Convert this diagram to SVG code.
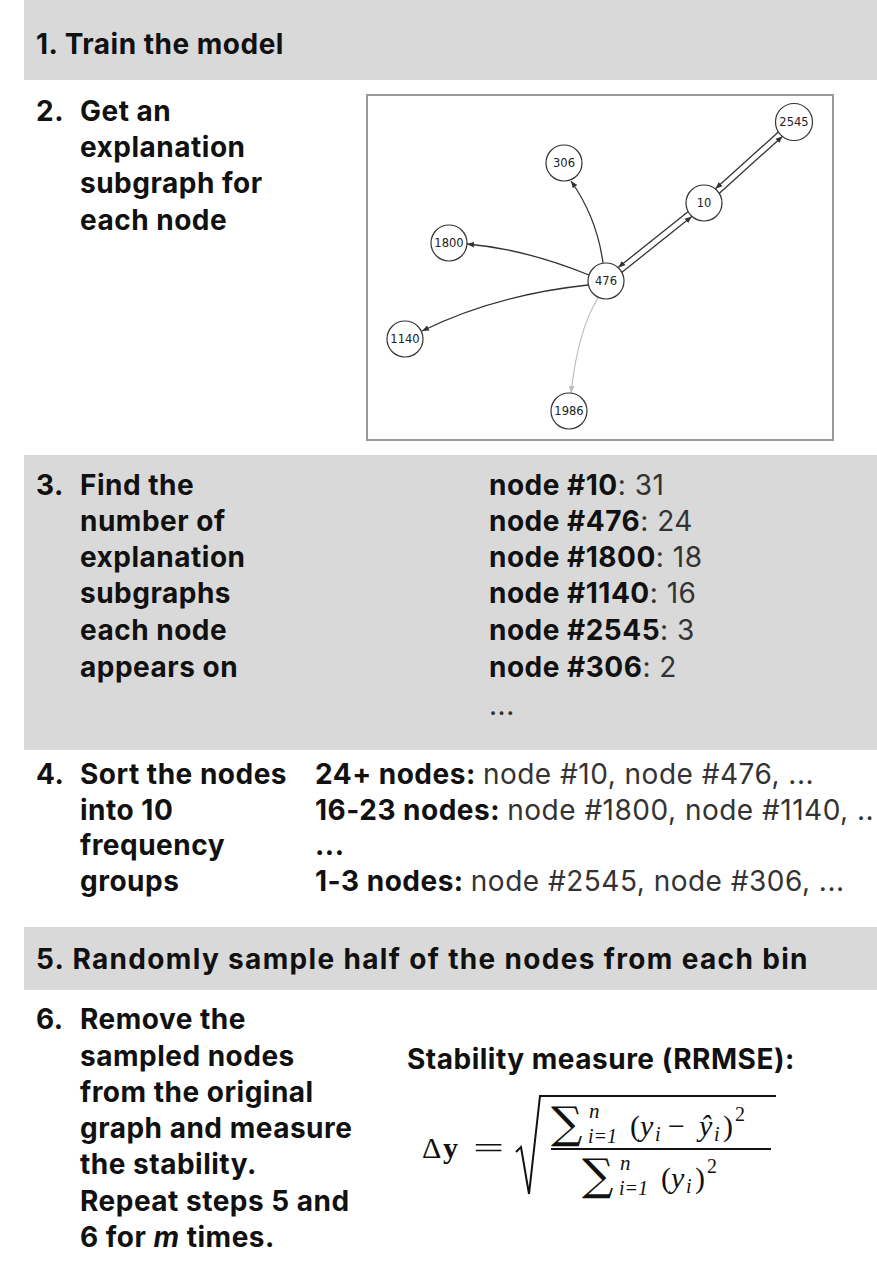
<svg xmlns="http://www.w3.org/2000/svg" width="877" height="1262" viewBox="0 0 877 1262">
<style>
.band{fill:#d9d9d9}
.b{font-family:Inter,"Liberation Sans",sans-serif;font-weight:700;font-size:28px;letter-spacing:0.5px;fill:#111}
.r{font-family:Inter,"Liberation Sans",sans-serif;font-weight:400;fill:#333}
.nc{fill:#fff;stroke:#333;stroke-width:1.2}
.nl{font-family:"DejaVu Sans",sans-serif;font-size:11.5px;fill:#222;text-anchor:middle}
.e{fill:none;stroke:#333;stroke-width:1.3}
.el{fill:none;stroke:#bbb;stroke-width:1.1}
.m{font-family:"Liberation Serif","DejaVu Serif",serif;fill:#111}
.mi{font-family:"Liberation Serif","DejaVu Serif",serif;font-style:italic;fill:#111}
.sg{font-family:"DejaVu Serif",serif;fill:#111}
</style>
<defs>
<marker id="ah" viewBox="0 0 10 10" refX="10" refY="5" markerWidth="7" markerHeight="7" markerUnits="userSpaceOnUse" orient="auto"><path d="M0,1 L10,5 L0,9 z" fill="#333"/></marker>
<marker id="ahl" viewBox="0 0 10 10" refX="10" refY="5" markerWidth="7" markerHeight="7" markerUnits="userSpaceOnUse" orient="auto"><path d="M0,1 L10,5 L0,9 z" fill="#bbb"/></marker>
</defs>
<rect width="877" height="1262" fill="#fff"/>

<g id="step1">
<rect class="band" x="24" y="0" width="853" height="80"/>
<text class="b" x="36" y="54">1. Train the model</text>
</g>

<g id="step2">
<text class="b" x="36" y="121">2.</text>
<text class="b" x="80" y="121">Get an</text>
<text class="b" x="80" y="157">explanation</text>
<text class="b" x="80" y="193">subgraph for</text>
<text class="b" x="80" y="230">each node</text>
</g>

<g id="graph">
<rect x="367" y="95" width="466" height="345" fill="#fff" stroke="#999" stroke-width="2"/>
<g id="edges">
<line class="e" x1="622" y1="272.2" x2="691.8" y2="216.6" marker-end="url(#ah)"/>
<line class="e" x1="688" y1="211.8" x2="618.2" y2="267.4" marker-end="url(#ah)"/>
<line class="e" x1="719.4" y1="193.2" x2="782.6" y2="136.2" marker-end="url(#ah)"/>
<line class="e" x1="778.6" y1="131.8" x2="715.4" y2="188.8" marker-end="url(#ah)"/>
<path class="e" d="M603,263 Q597,218 571,181" marker-end="url(#ah)"/>
<path class="e" d="M589,275 Q525,249 467,244" marker-end="url(#ah)"/>
<path class="e" d="M588,285 Q495,295 422,331" marker-end="url(#ah)"/>
<path class="el" d="M598,298 Q578,330 571,393" marker-end="url(#ahl)"/>
</g>
<g id="n2545"><circle class="nc" cx="794" cy="122" r="18.5"/><text class="nl" x="794" y="126">2545</text></g>
<g id="n306"><circle class="nc" cx="564" cy="163" r="18"/><text class="nl" x="564" y="167">306</text></g>
<g id="n10"><circle class="nc" cx="704" cy="203" r="18"/><text class="nl" x="704" y="207">10</text></g>
<g id="n1800"><circle class="nc" cx="449" cy="243" r="18"/><text class="nl" x="449" y="247">1800</text></g>
<g id="n476"><circle class="nc" cx="606" cy="281" r="18"/><text class="nl" x="606" y="285">476</text></g>
<g id="n1140"><circle class="nc" cx="405" cy="339" r="18"/><text class="nl" x="405" y="343">1140</text></g>
<g id="n1986"><circle class="nc" cx="569" cy="411" r="18"/><text class="nl" x="569" y="415">1986</text></g>
</g>

<g id="step3">
<rect class="band" x="24" y="455" width="853" height="295"/>
<text class="b" x="36" y="495">3.</text>
<text class="b" x="80" y="495">Find the</text>
<text class="b" x="80" y="531">number of</text>
<text class="b" x="80" y="567">explanation</text>
<text class="b" x="80" y="603">subgraphs</text>
<text class="b" x="80" y="640">each node</text>
<text class="b" x="80" y="677">appears on</text>
<text class="b" x="489" y="495">node #10<tspan class="r">: 31</tspan></text>
<text class="b" x="489" y="531">node #476<tspan class="r">: 24</tspan></text>
<text class="b" x="489" y="567">node #1800<tspan class="r">: 18</tspan></text>
<text class="b" x="489" y="603">node #1140<tspan class="r">: 16</tspan></text>
<text class="b" x="489" y="640">node #2545<tspan class="r">: 3</tspan></text>
<text class="b" x="489" y="677">node #306<tspan class="r">: 2</tspan></text>
<text class="b r" x="489" y="715">...</text>
</g>

<g id="step4">
<text class="b" x="36" y="784">4.</text>
<text class="b" x="80" y="784">Sort the nodes</text>
<text class="b" x="80" y="820">into 10</text>
<text class="b" x="80" y="855">frequency</text>
<text class="b" x="80" y="891">groups</text>
<text class="b" x="315" y="784">24+ nodes: <tspan class="r">node #10, node #476, ...</tspan></text>
<text class="b" x="315" y="820">16-23 nodes: <tspan class="r">node #1800, node #1140, ..</tspan></text>
<text class="b" x="315" y="855">...</text>
<text class="b" x="315" y="891">1-3 nodes: <tspan class="r">node #2545, node #306, ...</tspan></text>
</g>

<g id="step5">
<rect class="band" x="24" y="927" width="853" height="63"/>
<text class="b" x="36" y="969" textLength="772" lengthAdjust="spacing">5. Randomly sample half of the nodes from each bin</text>
</g>

<g id="step6">
<text class="b" x="36" y="1029">6.</text>
<text class="b" x="80" y="1029">Remove the</text>
<text class="b" x="80" y="1066">sampled nodes</text>
<text class="b" x="80" y="1102">from the original</text>
<text class="b" x="80" y="1138">graph and measure</text>
<text class="b" x="80" y="1174">the stability.</text>
<text class="b" x="80" y="1211">Repeat steps 5 and</text>
<text class="b" x="80" y="1247">6 for <tspan font-style="italic">m</tspan> times.</text>
</g>

<g id="formula">
<text class="b" x="407" y="1069">Stability measure (RRMSE):</text>
<text class="m" x="422" y="1158" font-size="30">Δ</text>
<text class="m" x="443" y="1158" font-size="30" font-weight="bold">y</text>
<text class="m" x="473" y="1158" font-size="30" textLength="31" lengthAdjust="spacingAndGlyphs">=</text>
<path d="M516,1152 L521,1147 L529,1194 L540,1096 L776,1096" fill="none" stroke="#111" stroke-width="2"/>
<line x1="551" y1="1149" x2="771" y2="1149" stroke="#111" stroke-width="2"/>
<text class="sg" x="551" y="1138" font-size="44">∑</text>
<text class="mi" x="589" y="1118" font-size="21">n</text>
<text class="mi" x="588" y="1143" font-size="20">i<tspan class="m">=1</tspan></text>
<text class="m" x="630" y="1136" font-size="30">(</text>
<text class="mi" x="640" y="1136" font-size="30">y</text>
<text class="mi" x="655" y="1141" font-size="20">i</text>
<text class="m" x="668" y="1136" font-size="30">−</text>
<text class="mi" x="699" y="1136" font-size="30">ŷ</text>
<text class="mi" x="714" y="1141" font-size="20">i</text>
<text class="m" x="723" y="1136" font-size="30">)</text>
<text class="m" x="735" y="1121" font-size="20">2</text>
<text class="sg" x="582" y="1190" font-size="44">∑</text>
<text class="mi" x="620" y="1170" font-size="21">n</text>
<text class="mi" x="619" y="1195" font-size="20">i<tspan class="m">=1</tspan></text>
<text class="m" x="661" y="1188" font-size="30">(</text>
<text class="mi" x="671" y="1188" font-size="30">y</text>
<text class="mi" x="686" y="1193" font-size="20">i</text>
<text class="m" x="695" y="1188" font-size="30">)</text>
<text class="m" x="707" y="1173" font-size="20">2</text>
</g>
</svg>
